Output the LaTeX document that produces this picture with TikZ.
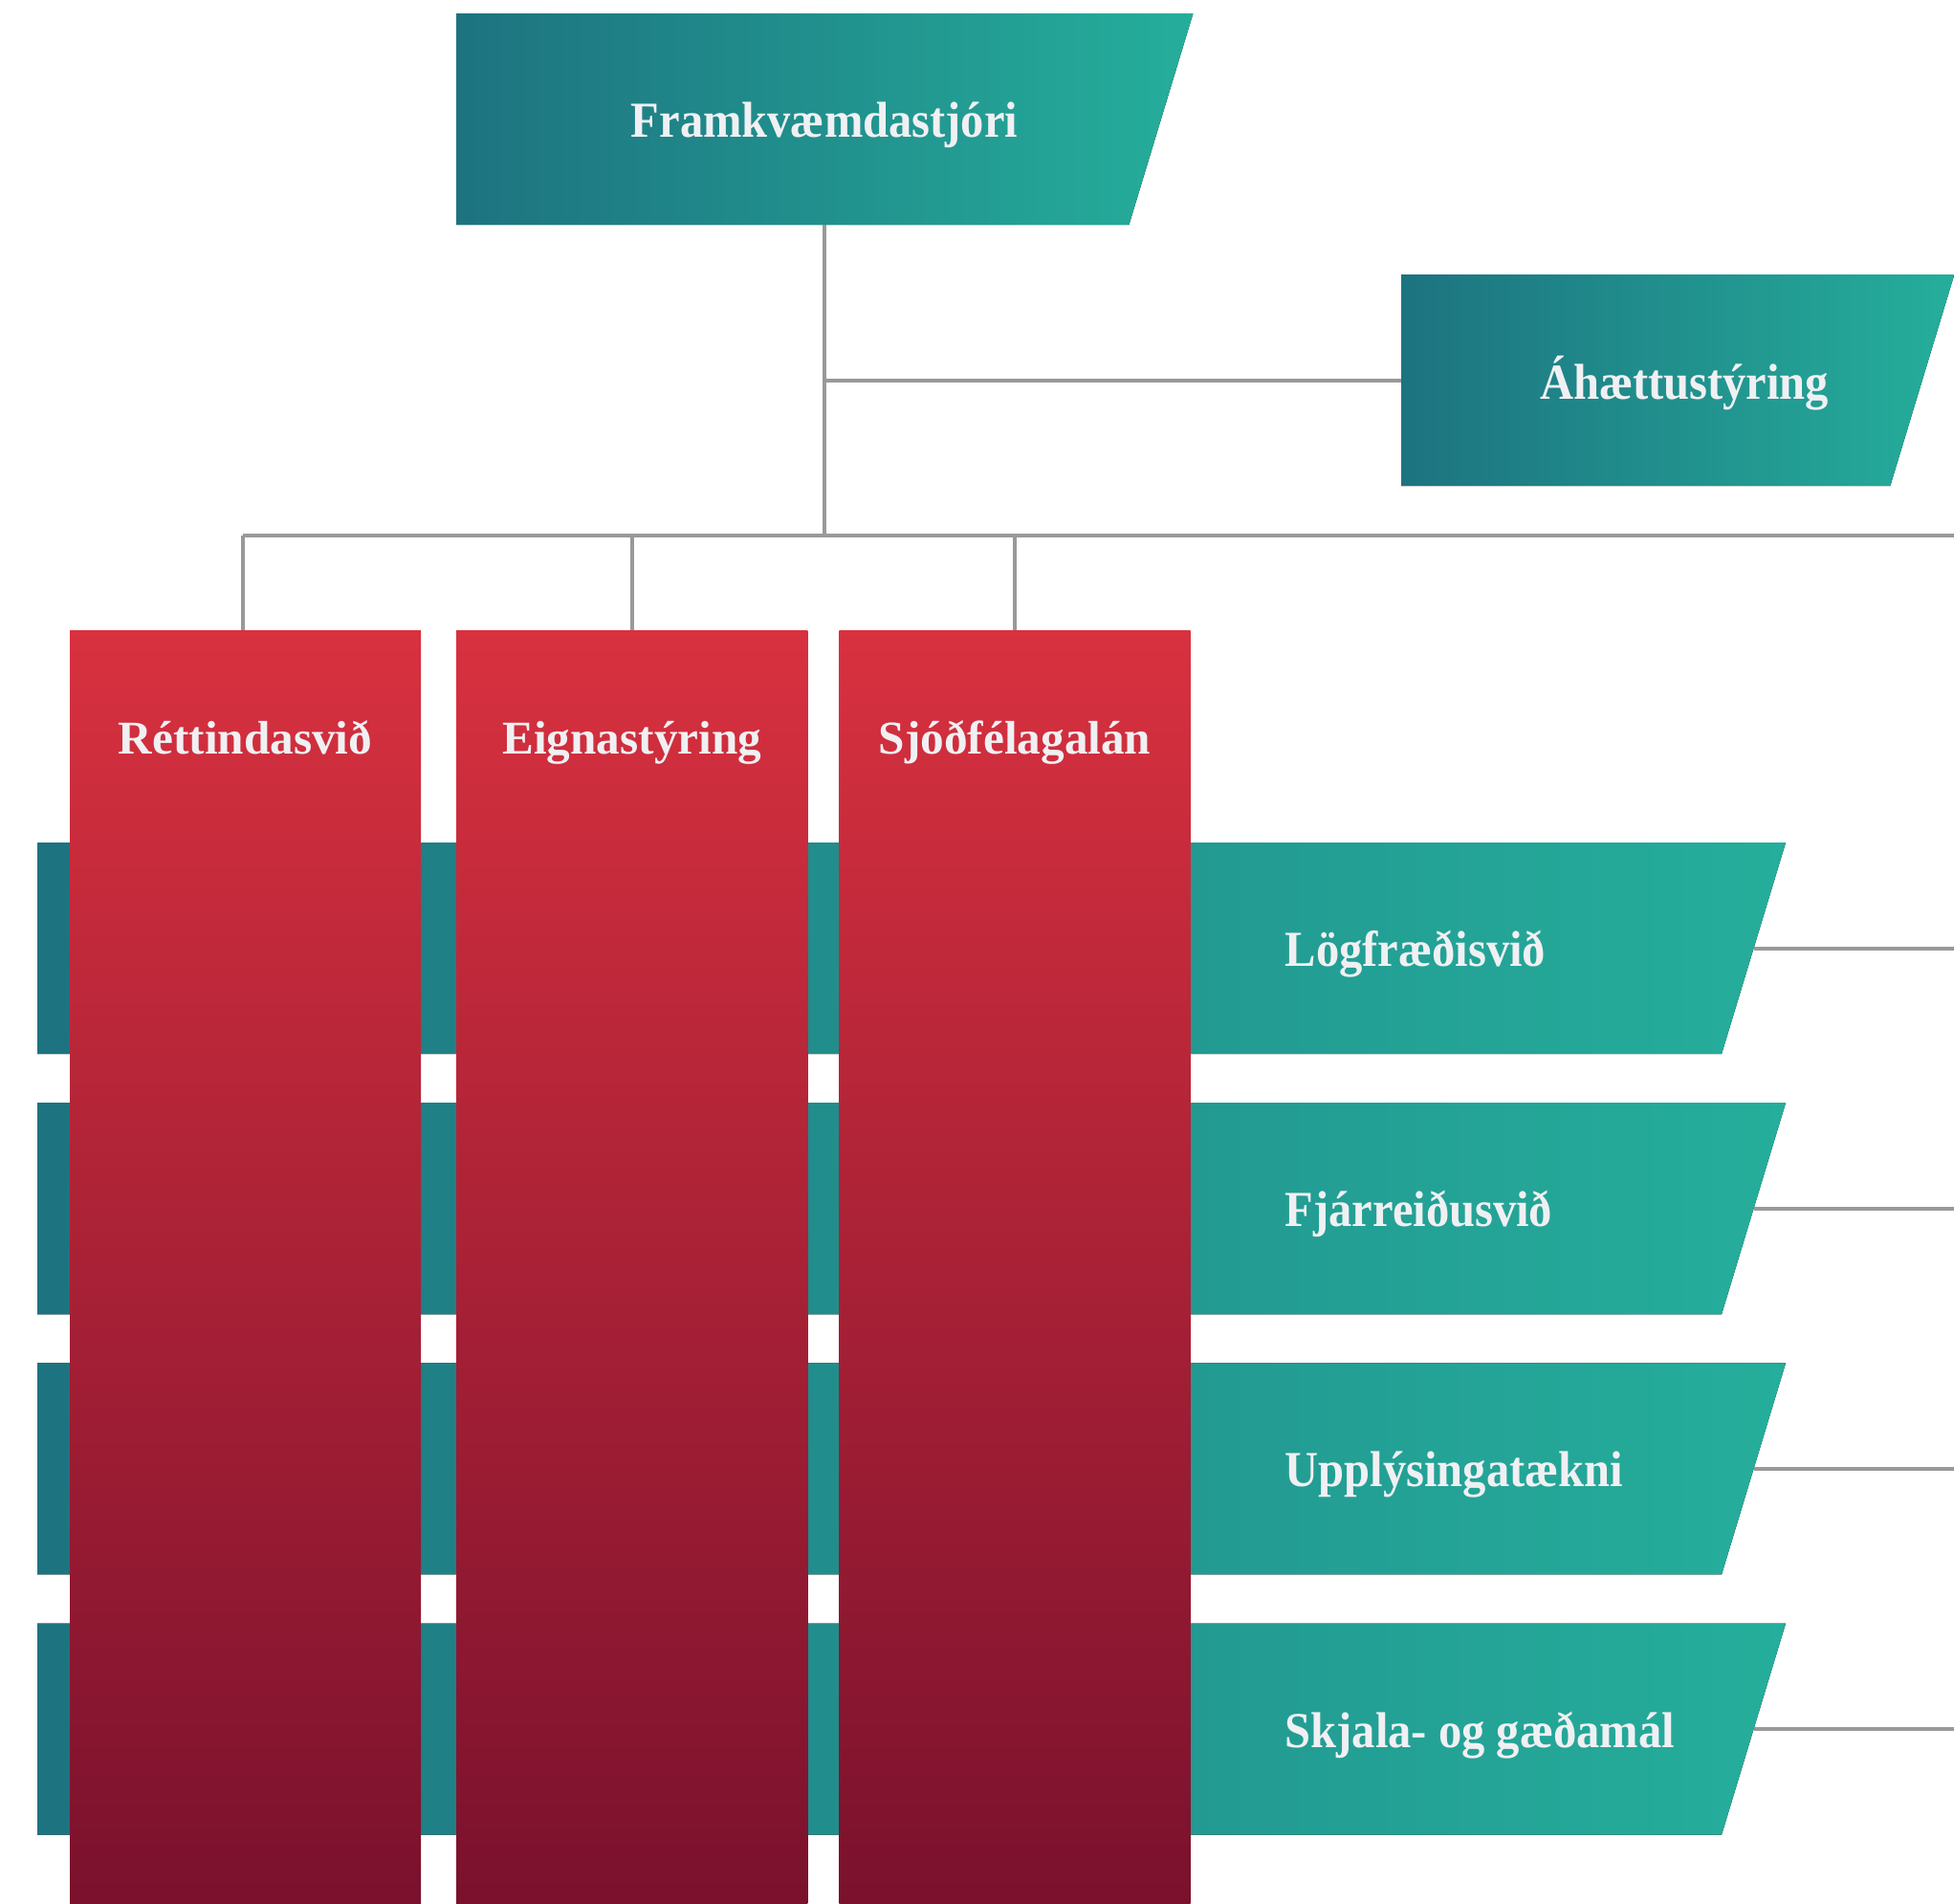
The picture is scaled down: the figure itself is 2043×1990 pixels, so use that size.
\documentclass[tikz,border=0pt]{standalone}
\usepackage{fontspec}
\setmainfont{Liberation Serif}
\newfontfamily\condfont{Liberation Serif}[FakeStretch=0.92]
\usetikzlibrary{positioning}
\definecolor{tealD}{HTML}{1D7380}
\definecolor{tealL}{HTML}{25AE9B}
\definecolor{redT}{HTML}{D8313F}
\definecolor{redB}{HTML}{7A112D}
\definecolor{txtgray}{HTML}{F0F0F3}
\definecolor{linegray}{HTML}{999999}

\begin{document}
\begin{tikzpicture}[x=0.01cm, y=-0.01cm, node distance=0.51cm and 0.37cm,
    tealbox/.style={rectangle, minimum height=2.21cm, inner sep=0pt, outer sep=0pt,
      path picture={\fill[left color=tealD, right color=tealL]
        (path picture bounding box.north west) -- (path picture bounding box.north east)
        -- ([xshift=-0.67cm]path picture bounding box.south east)
        -- (path picture bounding box.south west) -- cycle;}},
    redcol/.style={rectangle, minimum width=3.67cm, minimum height=13.31cm,
      inner sep=0pt, outer sep=0pt, top color=redT, bottom color=redB},
    tealtext/.style={text=txtgray, inner sep=0pt, font=\condfont\bfseries\fontsize{15}{18}\selectfont},
    redtext/.style={text=txtgray, inner sep=0pt, font=\bfseries\fontsize{14}{17}\selectfont},
    conn/.style={draw=linegray, line width=1.15pt}]
    \useasboundingbox (0,0) rectangle (2043,1990);
    % top level
    \node[tealbox, minimum width=7.7cm, anchor=north west] (boss) at (477,14) {};
    \node[tealbox, minimum width=5.78cm, anchor=north west] (risk) at (1465,287) {};
    \node[tealtext, anchor=base] (bosstxt) at (862,143) {Framkvæmdastjóri};
    \node[tealtext, anchor=base] (risktxt) at (1761,417) {Áhættustýring};
    % support units behind the columns
    \node[tealbox, minimum width=18.27cm, anchor=north west] (legal) at (39,881) {};
    \node[tealbox, minimum width=18.27cm, below=of legal] (treasury) {};
    \node[tealbox, minimum width=18.27cm, below=of treasury] (it) {};
    \node[tealbox, minimum width=18.27cm, below=of it] (docs) {};
    % core divisions
    \node[redcol, anchor=north west] (rights) at (73,659) {};
    \node[redcol, right=of rights] (assets) {};
    \node[redcol, right=0.33cm of assets] (loans) {};
    \node[redtext, anchor=base] (rightstxt) at ([yshift=-1.29cm]rights.north) {Réttindasvið};
    \node[redtext, anchor=base] (assetstxt) at ([yshift=-1.29cm]assets.north) {Eignastýring};
    \node[redtext, anchor=base] (loanstxt) at ([yshift=-1.29cm]loans.north) {Sjóðfélagalán};
    \node[tealtext, anchor=base west] (legaltxt) at ([yshift=-0.19cm]legal.center -| 1343,0) {Lögfræðisvið};
    \node[tealtext, anchor=base west] (treasurytxt) at ([yshift=-0.19cm]treasury.center -| 1343,0) {Fjárreiðusvið};
    \node[tealtext, anchor=base west] (ittxt) at ([yshift=-0.19cm]it.center -| 1343,0) {Upplýsingatækni};
    \node[tealtext, anchor=base west] (docstxt) at ([yshift=-0.19cm]docs.center -| 1343,0) {Skjala- og gæðamál};
    % connectors
    \coordinate (bus) at (2043,560);
    \draw[conn] (boss.south) -- (boss.south |- bus);
    \draw[conn] (boss.south |- risk.west) -- (risk.west);
    \draw[conn] ([xshift=-0.03cm]rights.north |- bus) -- (bus);
    \draw[conn] ([xshift=-0.03cm]rights.north) -- ([xshift=-0.03cm]rights.north |- bus);
    \draw[conn] (assets.north) -- (assets.north |- bus);
    \draw[conn] (loans.north) -- (loans.north |- bus);
    \draw[conn] ([xshift=-0.335cm]legal.east) -- (legal.east -| bus);
    \draw[conn] ([xshift=-0.335cm]treasury.east) -- (treasury.east -| bus);
    \draw[conn] ([xshift=-0.335cm]it.east) -- (it.east -| bus);
    \draw[conn] ([xshift=-0.335cm]docs.east) -- (docs.east -| bus);
\end{tikzpicture}
\end{document}
